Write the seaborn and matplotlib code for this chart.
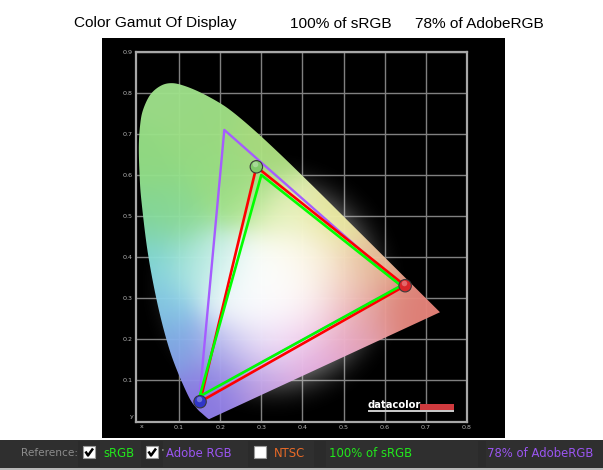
import numpy as np
import pandas as pd
import seaborn as sns
import matplotlib
matplotlib.use("Agg")
import matplotlib.pyplot as plt
from matplotlib.patches import Polygon, Rectangle

# ---- data ----
locus_x = [.1741,.1726,.1689,.1566,.1440,.1241,.0913,.0687,.0454,.0235,.0082,.0039,.0020,.0050,.0120,.0300,.0560,.0830,.1142,.1547,.2000,.2296,.2658,.3016,.3373,.3731,.4441,.5125,.5752,.6270,.6658,.6915,.7260,.7347]
locus_y = [.0050,.0048,.0069,.0177,.0297,.0578,.1327,.2007,.2950,.4127,.5384,.6000,.6680,.7200,.7580,.7960,.8180,.8240,.8170,.8000,.7750,.7543,.7243,.6923,.6589,.6245,.5547,.4866,.4242,.3725,.3340,.3083,.2740,.2653]
srgb_x = [0.64, 0.30, 0.15]
srgb_y = [0.33, 0.60, 0.06]
adobe_x = [0.64, 0.21, 0.15]
adobe_y = [0.33, 0.71, 0.06]
display_x = [0.65, 0.288, 0.151]
display_y = [0.33, 0.62, 0.047]
display_colors = ["#d8262a", "#7fca6a", "#2f35c8"]
x_ticks = [.1, .2, .3, .4, .5, .6, .7, .8]
y_ticks = [.1, .2, .3, .4, .5, .6, .7, .8, .9]
anchor_xy = [(.08,.80),(.03,.62),(.02,.50),(.03,.40),(.06,.28),(.10,.18),(.16,.05),(.20,.10),(.30,.09),(.42,.13),(.50,.20),
             (.65,.28),(.72,.27),(.58,.38),(.48,.48),(.30,.66),(.20,.60),(.25,.55),(.35,.50),(.15,.72),(.10,.50),(.13,.38),
             (.33,.33),(.28,.36),(.38,.30),(.30,.26),(.36,.38),(.24,.30),(.20,.38),(.42,.38),(.50,.34),(.44,.26),(.22,.18),(.30,.18),(.37,.20),(.55,.26)]
anchor_rgb = [(160,225,140),(150,225,135),(135,222,155),(130,220,225),(135,205,235),(130,170,235),(140,120,235),(150,140,235),(195,155,230),(230,170,225),(235,165,200),
              (230,135,125),(230,130,120),(235,190,150),(235,235,160),(175,225,130),(155,228,135),(170,230,140),(235,245,190),(160,225,135),(145,225,150),(170,235,225),
              (255,255,255),(255,255,255),(255,255,255),(255,255,255),(255,255,250),(245,252,255),(205,240,235),(255,245,225),(245,215,195),(250,225,235),(190,190,240),(235,225,250),(245,215,245),(235,165,165)]
title = "Color Gamut Of Display"
cov_srgb = "100% of sRGB"
cov_adobe = "78% of AdobeRGB"

sns.set_theme(style="dark")
plt.rcParams["font.family"] = ["DejaVu Sans"]
W, H = 603, 470
fig = plt.figure(figsize=(W/100, H/100), dpi=100, facecolor="white")

# page overlay in pixel coordinates
page = fig.add_axes([0, 0, 1, 1], zorder=0)
page.set_xlim(0, W); page.set_ylim(H, 0); page.axis("off")
page.add_patch(Rectangle((102, 38), 403, 400, fc="black", ec="none"))
page.add_patch(Rectangle((0, 440), W, 28, fc="#2f2f2f", ec="none"))
page.add_patch(Rectangle((0, 468), W, 2, fc="#b8b8b8", ec="none"))
for bx, bw in [(78, 22), (141, 22), (248, 22), (314, 12), (478, 8)]:
    page.add_patch(Rectangle((bx, 441), bw, 26, fc="#2b2b2b", ec="none"))

# chart axes
L, R, T, B = 136, 467, 52, 422
ax = fig.add_axes([L/W, 1-B/H, (R-L)/W, (B-T)/H], zorder=1)
px = 411.0
ax.set_facecolor("black")
for s in ax.spines.values():
    s.set_color("#a8a8a8"); s.set_linewidth(1.6); s.set_visible(True)
ax.set_xticks(x_ticks); ax.set_yticks(y_ticks)
ax.set_xticklabels([f"{v:.1f}" for v in x_ticks])
ax.set_yticklabels([f"{v:.1f}" for v in y_ticks])
ax.tick_params(length=0, labelsize=4.6, labelcolor="#b5b5b5", pad=2.5)
ax.grid(True, color="#808080", lw=1.0, zorder=0)
ax.set_axisbelow(True)
ax.text(0.008, -0.0135, "x", color="#b5b5b5", fontsize=4.6, ha="center", va="center", clip_on=False)
ax.text(-0.0145, 0.012, "y", color="#b5b5b5", fontsize=4.6, ha="center", va="center", clip_on=False)

# glow + chromaticity image
gx, gy = np.meshgrid(np.linspace(0, .8, 500), np.linspace(0, .9, 560))
d = np.hypot(gx-.33, gy-.33)
glow = np.zeros(gx.shape + (4,))
glow[..., :3] = 1
glow[..., 3] = 0.8*np.exp(-(d/.235)**5)
ax.imshow(glow, extent=(0, .8, 0, .9), origin="lower", aspect="auto", zorder=1, interpolation="bilinear")

axy = np.array(anchor_xy); argb = np.array(anchor_rgb, float)/255
dd = (gx[..., None]-axy[:, 0])**2 + (gy[..., None]-axy[:, 1])**2
wt = np.exp(-dd/(2*.055**2)) + 1e-9
rgb = (wt[..., None]*argb).sum(2)/wt.sum(2, keepdims=True)
rgba = np.dstack([rgb, np.full(gx.shape, .965)])

# smooth outline through the read points
P = np.c_[locus_x, locus_y]
Q = np.vstack([P[0], P, P[-1]])
t = np.linspace(0, 1, 9)[:-1][:, None]
curve = []
for i in range(1, len(Q)-2):
    p0, p1, p2, p3 = Q[i-1], Q[i], Q[i+1], Q[i+2]
    curve.append(.5*((2*p1) + (p2-p0)*t + (2*p0-5*p1+4*p2-p3)*t**2 + (3*p1-p0-3*p2+p3)*t**3))
curve = np.vstack(curve + [P[-1:]])
poly = Polygon(curve, closed=True, transform=ax.transData, fc="none", ec="none")
ax.add_patch(poly)
im = ax.imshow(rgba, extent=(0, .8, 0, .9), origin="lower", aspect="auto", zorder=2, interpolation="bilinear")
im.set_clip_path(poly)
ax.set_xlim((L-138)/px, (R-138)/px)
ax.set_ylim((421-B)/410.0, (421-T)/410.0)

# gamut triangles
def tri(xs, ys, color, lw, z):
    df = pd.DataFrame({"x": xs+xs[:1], "y": ys+ys[:1]})
    sns.lineplot(data=df, x="x", y="y", sort=False, estimator=None, color=color, lw=lw, ax=ax, zorder=z)
tri(adobe_x, adobe_y, "#a55cff", 1.7, 3)
tri(display_x, display_y, "#ff0000", 1.9, 4)
tri(srgb_x, srgb_y, "#00ff00", 1.9, 5)

# glossy primaries
balls = pd.DataFrame({"x": display_x, "y": display_y, "c": display_colors})
sns.scatterplot(data=balls, x="x", y="y", hue="c", palette=dict(zip(display_colors, display_colors)),
                s=80, edgecolor="#3a3a3a", linewidth=0.8, legend=False, ax=ax, zorder=6, clip_on=False)
ax.scatter(np.array(display_x)-.003, np.array(display_y)+.007, s=16, color="white", alpha=.3, lw=0, zorder=7)
ax.set_xlabel(""); ax.set_ylabel("")

# logo
page2 = fig.add_axes([0, 0, 1, 1], zorder=2)
page2.set_xlim(0, W); page2.set_ylim(H, 0); page2.axis("off"); page2.patch.set_alpha(0)
page2.text(368, 405.5, "datacolor", color="white", fontsize=7.2, fontweight="bold", va="center", ha="left")
page2.add_patch(Rectangle((420, 404), 34, 5.5, fc="#cf3a3e", ec="none"))
page2.add_patch(Rectangle((368, 410), 86, 1.6, fc="#c8c8c8", ec="none"))

# header
hdr = dict(family=["Liberation Sans"], fontsize=11.1, color="black", va="center", ha="left")
page2.text(74.5, 22.5, title, **hdr)
page2.text(290, 23.5, cov_srgb, **hdr)
page2.text(415, 23.5, cov_adobe, **hdr)

# bottom bar
page2.text(21, 453.5, "Reference:", color="#8c8c8c", fontsize=7.6, va="center", ha="left")
for bx, checked in [(83, True), (146, True), (254, False)]:
    page2.add_patch(Rectangle((bx, 446), 12, 12, fc="white", ec="#999999", lw=0.8))
    if checked:
        page2.plot([bx+2.5, bx+5, bx+10], [451.5, 455.5, 448.5], color="black", lw=1.8, solid_capstyle="butt")
page2.text(162.3, 451, "'", color="white", fontsize=5, va="center", ha="center")
page2.text(103, 453.5, "sRGB", color="#22e81c", fontsize=8.4, va="center", ha="left")
page2.text(166, 453.5, "Adobe RGB", color="#9a55f0", fontsize=8.4, va="center", ha="left")
page2.text(274, 453.5, "NTSC", color="#e86a28", fontsize=8.4, va="center", ha="left")
page2.text(329, 453.5, cov_srgb, color="#22e81c", fontsize=8.4, va="center", ha="left")
page2.text(487, 453.5, cov_adobe, color="#9a55f0", fontsize=8.4, va="center", ha="left")

fig.savefig("out.png", dpi=100)
